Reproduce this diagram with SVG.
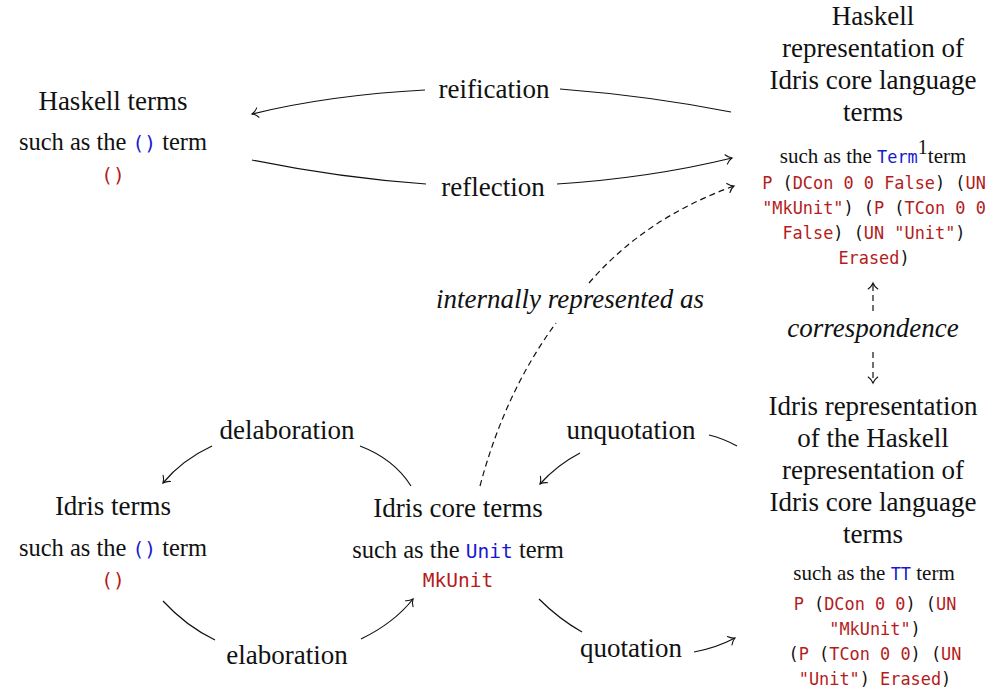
<svg xmlns="http://www.w3.org/2000/svg" width="995" height="690" viewBox="0 0 995 690">
<style>
text{font-family:"Liberation Serif","DejaVu Serif",serif;fill:#111;text-anchor:middle}
.t{font-size:27px}
.c{font-size:24.5px}
.cs{font-size:21px}
.i{font-size:27px;font-style:italic}
.m{font-family:"DejaVu Sans Mono","Liberation Mono",monospace;font-size:19.5px}
.ms{font-family:"DejaVu Sans Mono","Liberation Mono",monospace;font-size:16.9px;white-space:pre}
.b{fill:#1818d0}
.r{fill:#b41c1c}
.e{fill:none;stroke:#111;stroke-width:1.2}
.d{stroke-dasharray:6 4}
</style>
<defs>
<marker id="a" markerUnits="userSpaceOnUse" markerWidth="14" markerHeight="14" refX="0" refY="0" viewBox="-8 -7 10 14" orient="auto" overflow="visible">
<path d="M-6,-4.8 C-4.2,-2.2 -1.5,-0.6 0,0 C-1.5,0.6 -4.2,2.2 -6,4.8" fill="none" stroke="#111" stroke-width="1.1" stroke-linecap="round"/>
</marker>
</defs>

<g id="haskell-terms">
<text class="t" x="113" y="110">Haskell terms</text>
<text class="c" x="113" y="150">such as the <tspan class="m b">()</tspan> term</text>
<text class="m r" x="113" y="182">()</text>
</g>

<g id="haskell-repr">
<text class="t" x="873" y="25">Haskell</text>
<text class="t" x="873" y="57">representation of</text>
<text class="t" x="873" y="89">Idris core language</text>
<text class="t" x="873" y="121">terms</text>
<text class="cs" x="873" y="163">such as the <tspan class="ms b">Term</tspan><tspan dy="-9" font-size="20">1</tspan><tspan dy="9">term</tspan></text>
<text class="ms" x="874" y="189"><tspan class="r">P</tspan> (<tspan class="r">DCon 0 0 False</tspan>) (<tspan class="r">UN</tspan></text>
<text class="ms" x="874" y="214"><tspan class="r">"MkUnit"</tspan>) (<tspan class="r">P</tspan> (<tspan class="r">TCon 0 0</tspan></text>
<text class="ms" x="874" y="239"><tspan class="r">False</tspan>) (<tspan class="r">UN "Unit"</tspan>)</text>
<text class="ms" x="874" y="264"><tspan class="r">Erased</tspan>)</text>
</g>

<g id="idris-repr">
<text class="t" x="873" y="415">Idris representation</text>
<text class="t" x="873" y="447">of the Haskell</text>
<text class="t" x="873" y="479">representation of</text>
<text class="t" x="873" y="511">Idris core language</text>
<text class="t" x="873" y="543">terms</text>
<text class="cs" x="874" y="580">such as the <tspan class="ms b">TT</tspan> term</text>
<text class="ms" x="875" y="610"><tspan class="r">P</tspan> (<tspan class="r">DCon 0 0</tspan>) (<tspan class="r">UN</tspan></text>
<text class="ms" x="875" y="635"><tspan class="r">"MkUnit"</tspan>)</text>
<text class="ms" x="875" y="660">(<tspan class="r">P</tspan> (<tspan class="r">TCon 0 0</tspan>) (<tspan class="r">UN</tspan></text>
<text class="ms" x="875" y="685"><tspan class="r">"Unit"</tspan>) <tspan class="r">Erased</tspan>)</text>
</g>

<g id="idris-terms">
<text class="t" x="113" y="515">Idris terms</text>
<text class="c" x="113" y="556">such as the <tspan class="m b">()</tspan> term</text>
<text class="m r" x="113" y="587">()</text>
</g>

<g id="idris-core">
<text class="t" x="458" y="517">Idris core terms</text>
<text class="c" x="458" y="558">such as the <tspan class="m b">Unit</tspan> term</text>
<text class="m r" x="458" y="587">MkUnit</text>
</g>

<g id="connectors">
<path class="e" d="M731,112 Q650,96 560,89"/>
<path class="e" d="M425,90 Q330,95 252,114" marker-end="url(#a)"/>
<text class="t" x="494" y="98">reification</text>

<path class="e" d="M252,160 Q340,178 426,184"/>
<path class="e" d="M557,184 Q650,178 732,158" marker-end="url(#a)"/>
<text class="t" x="493" y="196">reflection</text>

<path class="e d" d="M480,486 Q505,392 556,323"/>
<path class="e d" d="M589,283 Q645,218 734,186" marker-end="url(#a)"/>
<text class="i" x="570" y="308">internally represented as</text>

<path class="e d" d="M873,311 L873,283" marker-end="url(#a)"/>
<path class="e d" d="M873,352 L873,383" marker-end="url(#a)"/>
<text class="i" x="873" y="337">correspondence</text>

<path class="e" d="M411,486 Q394,459 360,446"/>
<path class="e" d="M212,446 Q182,460 163,483" marker-end="url(#a)"/>
<text class="t" x="287" y="439">delaboration</text>

<path class="e" d="M163,601 Q186,626 215,640"/>
<path class="e" d="M361,639 Q394,623 413,599" marker-end="url(#a)"/>
<text class="t" x="287" y="664">elaboration</text>

<path class="e" d="M737,446 Q722,438 709,435"/>
<path class="e" d="M580,453 Q557,465 540,484" marker-end="url(#a)"/>
<text class="t" x="631" y="439">unquotation</text>

<path class="e" d="M539,599 Q559,619 582,632"/>
<path class="e" d="M694,652 Q716,648 735,638" marker-end="url(#a)"/>
<text class="t" x="631" y="657">quotation</text>
</g>
</svg>
